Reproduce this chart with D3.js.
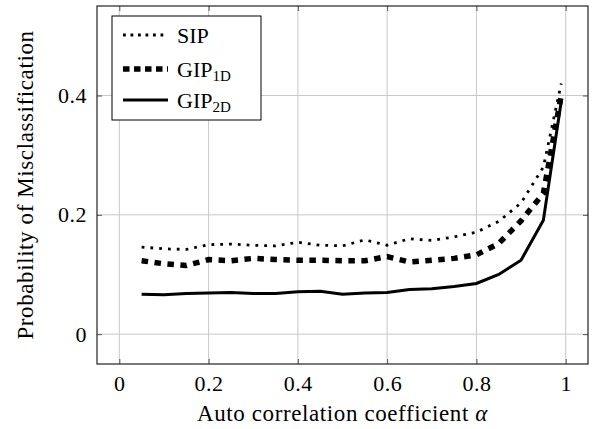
<!DOCTYPE html>
<html>
<head>
<meta charset="utf-8">
<script src="https://cdn.jsdelivr.net/npm/d3@7"></script>
<style>
  body { margin: 0; background: #fff; }
</style>
</head>
<body>
<script>
// Données
const alphas = [0.05, 0.1, 0.15, 0.2, 0.25, 0.3, 0.35, 0.4, 0.45, 0.5, 0.55, 0.6, 0.65, 0.7, 0.75, 0.8, 0.85, 0.9, 0.95, 0.99]
const sip = [0.146, 0.143, 0.142, 0.150, 0.151, 0.149, 0.148, 0.154, 0.149, 0.148, 0.158, 0.149, 0.160, 0.157, 0.163, 0.171, 0.189, 0.220, 0.280, 0.420]
const gip1d = [0.123, 0.118, 0.115, 0.125, 0.123, 0.127, 0.125, 0.124, 0.124, 0.123, 0.123, 0.130, 0.121, 0.124, 0.127, 0.133, 0.152, 0.190, 0.236, 0.400]
const gip2d = [0.067, 0.066, 0.068, 0.069, 0.070, 0.068, 0.068, 0.071, 0.072, 0.067, 0.069, 0.070, 0.075, 0.076, 0.080, 0.085, 0.100, 0.124, 0.191, 0.390]
const xTicks = [0, 0.2, 0.4, 0.6, 0.8, 1]
const yTicks = [0, 0.2, 0.4]
const seriesNames = ['SIP', 'GIP', 'GIP']
const seriesSubs = ['', '1D', '2D']

const FONT = 'Liberation Serif'
const W = 595, H = 429
const m = { left: 97, right: 7, top: 6, bottom: 65 }

const svg = d3.select('body')
  .append('svg')
  .attr('width', W)
  .attr('height', H)

const x = d3.scaleLinear().domain([-0.05, 1.05]).range([m.left, W - m.right])
const y = d3.scaleLinear().domain([-0.05, 0.55]).range([H - m.bottom, m.top])

// Grille
svg.append('g')
  .selectAll('line')
  .data(xTicks)
  .enter()
  .append('line')
    .attr('x1', d => x(d)).attr('x2', d => x(d))
    .attr('y1', y(-0.05)).attr('y2', y(0.55))
    .attr('stroke', '#c8c8c8').attr('stroke-width', 1)

svg.append('g')
  .selectAll('line')
  .data(yTicks)
  .enter()
  .append('line')
    .attr('y1', d => y(d)).attr('y2', d => y(d))
    .attr('x1', x(-0.05)).attr('x2', x(1.05))
    .attr('stroke', '#c8c8c8').attr('stroke-width', 1)

// Axes (graduations vers l'intérieur, des deux côtés)
const tk = 5
const fmt = d => String(+d.toFixed(1))

const xAxisB = svg.append('g')
  .attr('transform', `translate(0,${H - m.bottom})`)
  .call(d3.axisBottom(x).tickValues(xTicks).tickSizeInner(-tk).tickSizeOuter(0).tickPadding(11).tickFormat(fmt))
const xAxisT = svg.append('g')
  .attr('transform', `translate(0,${m.top})`)
  .call(d3.axisTop(x).tickValues(xTicks).tickSizeInner(-tk).tickSizeOuter(0).tickFormat(''))
const yAxisL = svg.append('g')
  .attr('transform', `translate(${m.left},0)`)
  .call(d3.axisLeft(y).tickValues(yTicks).tickSizeInner(-tk).tickSizeOuter(0).tickPadding(10).tickFormat(fmt))
const yAxisR = svg.append('g')
  .attr('transform', `translate(${W - m.right},0)`)
  .call(d3.axisRight(y).tickValues(yTicks).tickSizeInner(-tk).tickSizeOuter(0).tickFormat(''))

for (const a of [xAxisB, xAxisT, yAxisL, yAxisR]) {
  a.attr('font-family', FONT).attr('font-size', 22)
  a.select('.domain').remove()
  a.selectAll('.tick line').attr('stroke', '#555')
  a.selectAll('.tick text')
    .attr('font-family', FONT)
    .attr('font-size', 22)
    .attr('letter-spacing', 0.5)
    .attr('fill', '#000')
}

// Cadre
svg.append('rect')
  .attr('x', m.left).attr('y', m.top)
  .attr('width', W - m.left - m.right)
  .attr('height', H - m.top - m.bottom)
  .attr('fill', 'none')
  .attr('stroke', '#222')
  .attr('stroke-width', 1.2)

// Courbes
const styles = [
  { width: 2.8, dash: '2.8 6' },
  { width: 5.5, dash: '6.5 6.5' },
  { width: 3, dash: null }
]
const allSeries = [sip, gip1d, gip2d]

const line = d3.line()
  .x(d => x(d[0]))
  .y(d => y(d[1]))

allSeries.forEach((s, i) => {
  svg.append('path')
    .datum(alphas.map((a, j) => [a, s[j]]))
    .attr('d', line)
    .attr('fill', 'none')
    .attr('stroke', '#000')
    .attr('stroke-width', styles[i].width)
    .attr('stroke-dasharray', styles[i].dash)
})

// Légende
const lg = svg.append('g')
lg.append('rect')
  .attr('x', 112).attr('y', 16)
  .attr('width', 149).attr('height', 104)
  .attr('fill', '#fff')
  .attr('stroke', '#000')
  .attr('stroke-width', 1)

const legY = [35, 69, 100]
seriesNames.forEach((n, i) => {
  lg.append('line')
    .attr('x1', 123).attr('x2', 168)
    .attr('y1', legY[i]).attr('y2', legY[i])
    .attr('stroke', '#000')
    .attr('stroke-width', styles[i].width)
    .attr('stroke-dasharray', i === 0 ? '2.8 4.7' : i === 1 ? '6.5 4.5' : null)
  const t = lg.append('text')
    .attr('x', 177).attr('y', legY[i] + 8)
    .attr('font-family', FONT)
    .attr('font-size', 22)
    .text(n)
  if (seriesSubs[i]) {
    t.append('tspan')
      .attr('dy', 4)
      .attr('font-size', 15)
      .text(seriesSubs[i])
  }
})

// Titres des axes
const xt = svg.append('text')
  .attr('x', (m.left + W - m.right) / 2)
  .attr('y', 421)
  .attr('text-anchor', 'middle')
  .attr('font-family', FONT)
  .attr('font-size', 23)
  .attr('letter-spacing', 0.6)
  .text('Auto correlation coefficient ')
xt.append('tspan')
  .attr('font-style', 'italic')
  .text('α')

svg.append('text')
  .attr('transform', `translate(33,${(m.top + H - m.bottom) / 2}) rotate(-90)`)
  .attr('text-anchor', 'middle')
  .attr('font-family', FONT)
  .attr('font-size', 23)
  .attr('letter-spacing', 0.6)
  .text('Probability of Misclassification')
</script>
</body>
</html>
